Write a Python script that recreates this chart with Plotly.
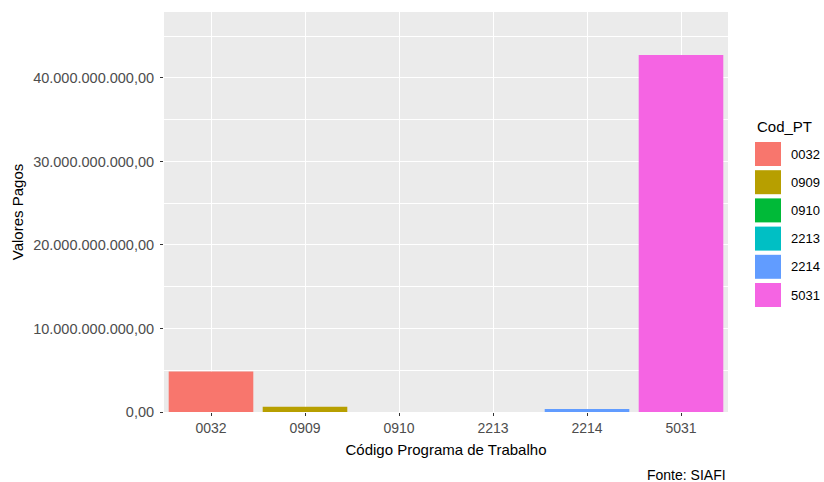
import plotly.graph_objects as go

codes = ["0032", "0909", "0910", "2213", "2214", "5031"]
valores = [4.85e9, 0.62e9, 0.0, 0.0, 0.37e9, 42.75e9]
cores = ["#F8766D", "#B79F00", "#00BA38", "#00BFC4", "#619CFF", "#F564E3"]
ytick_vals = [0, 1e10, 2e10, 3e10, 4e10]
y_max = 4.79e10

W, H = 824, 482
L, R, T, B = 164, 96, 12, 70
pw, ph = W - L - R, H - T - B

def px_x(px):
    return (px - L) / pw

def px_y(py):
    return (H - B - py) / ph

FONT = "Liberation Sans, Arial, sans-serif"

fig = go.Figure()
fig.add_trace(go.Bar(
    x=codes, y=valores, marker_color=cores, marker_line_width=0,
    width=0.9, showlegend=False,
))

shapes = []
annotations = []
# manual ggplot-like legend
key_x0, key_x1 = 755, 781
key_top0, key_step, key_h = 142, 28.2, 24
annotations.append(dict(
    x=px_x(755), y=px_y(127), xref="paper", yref="paper",
    text="Cod_PT", showarrow=False, xanchor="left", yanchor="middle",
    font=dict(family=FONT, size=15, color="black"),
))
for i, (c, col) in enumerate(zip(codes, cores)):
    top = key_top0 + i * key_step
    shapes.append(dict(
        type="rect", xref="paper", yref="paper",
        x0=px_x(key_x0), x1=px_x(key_x1), y0=px_y(top + key_h), y1=px_y(top),
        fillcolor=col, line=dict(width=0),
    ))
    annotations.append(dict(
        x=px_x(789), y=px_y(top + key_h / 2), xref="paper", yref="paper",
        text=c, showarrow=False, xanchor="left", yanchor="middle",
        font=dict(family=FONT, size=13, color="black"),
    ))

annotations.append(dict(
    x=1, y=px_y(475), xref="paper", yref="paper", text="Fonte: SIAFI",
    showarrow=False, xanchor="right", yanchor="middle",
    font=dict(family=FONT, size=14, color="black"),
))

fig.update_layout(
    width=W, height=H,
    margin=dict(l=L, r=R, t=T, b=B, pad=0),
    paper_bgcolor="white", plot_bgcolor="#EBEBEB",
    separators=",.",
    font=dict(family=FONT),
    bargap=0.1,
    shapes=shapes, annotations=annotations,
    showlegend=False,
)
fig.update_xaxes(
    type="category", showgrid=True, gridcolor="white", gridwidth=1.1,
    ticks="outside", ticklen=3, tickcolor="#333333", tickwidth=1,
    tickfont=dict(family=FONT, size=14, color="#4D4D4D"),
    title=dict(text="Código Programa de Trabalho", standoff=9,
               font=dict(family=FONT, size=15, color="black")),
    zeroline=False, showline=False,
)
fig.update_yaxes(
    range=[0, y_max], tickvals=ytick_vals, tickformat=",.2f",
    showgrid=True, gridcolor="white", gridwidth=1.1,
    minor=dict(dtick=5e9, showgrid=True, gridcolor="white", gridwidth=0.5, ticks=""),
    ticks="outside", ticklen=3, tickcolor="#333333", tickwidth=1,
    tickfont=dict(family=FONT, size=14.5, color="#4D4D4D"),
    ticklabelstandoff=3,
    title=dict(text="Valores Pagos", standoff=5,
               font=dict(family=FONT, size=15, color="black")),
    zeroline=False, showline=False,
)

fig.write_html("out.html", config={"displayModeBar": False},
               post_script="document.body.style.margin='0';")
